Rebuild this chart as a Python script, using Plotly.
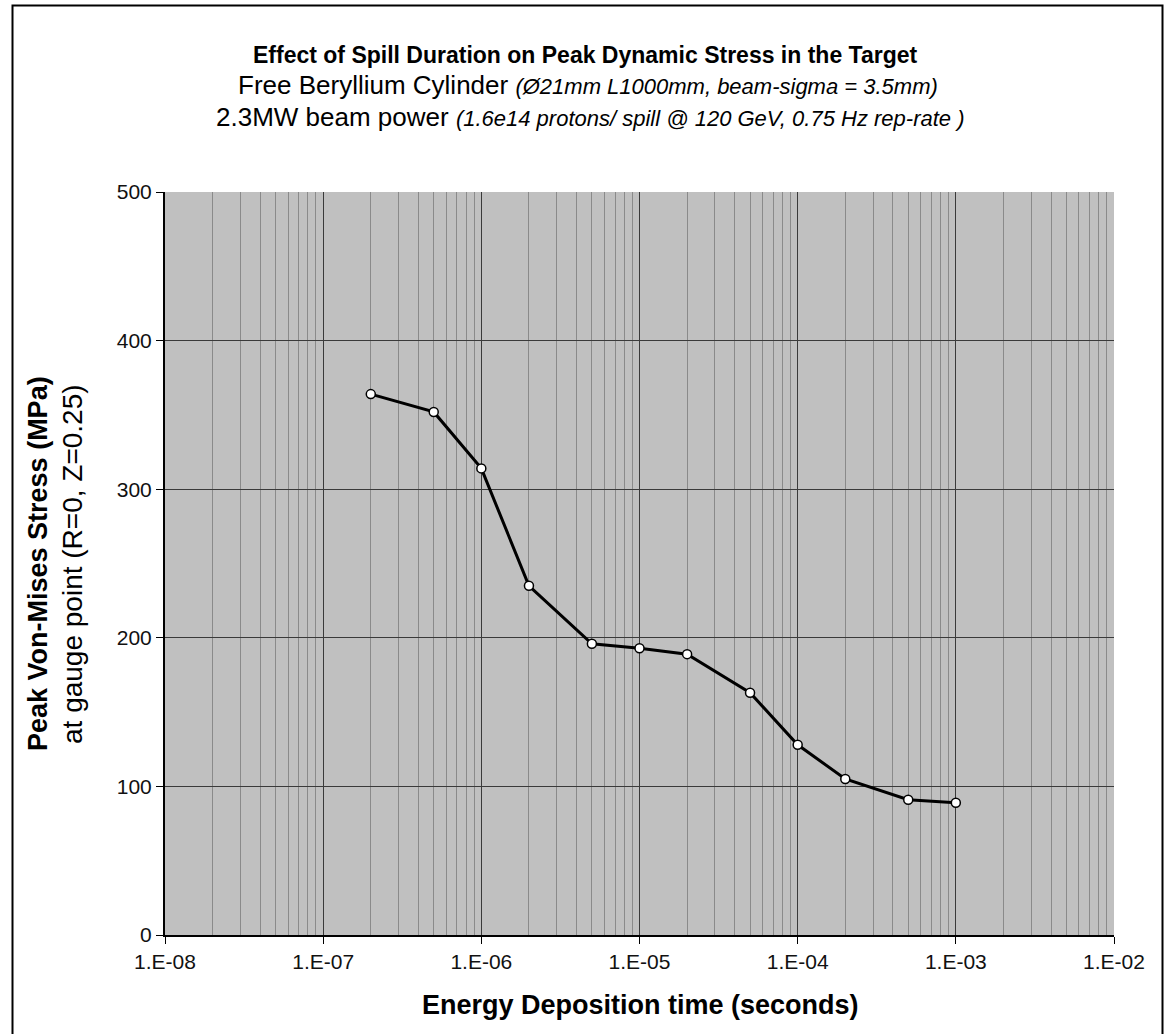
import plotly.graph_objects as go

# Energy deposition time (s) and peak von-Mises stress (MPa)
spill_time = [2e-7, 5e-7, 1e-6, 2e-6, 5e-6, 1e-5, 2e-5, 5e-5, 1e-4, 2e-4, 5e-4, 1e-3]
peak_stress = [364, 352, 314, 235, 196, 193, 189, 163, 128, 105, 91, 89]

x_tick_vals = [1e-8, 1e-7, 1e-6, 1e-5, 1e-4, 1e-3, 1e-2]
x_tick_text = ["1.E-08", "1.E-07", "1.E-06", "1.E-05", "1.E-04", "1.E-03", "1.E-02"]
y_tick_vals = [0, 100, 200, 300, 400, 500]

W, H = 1164, 1034
ML, MR, MT, MB = 165, 50, 192, 99
PW, PH = W - ML - MR, H - MT - MB

def px_x(px):
    return (px - ML) / PW

def px_y(py):
    return (H - MB - py) / PH

FONT = "Liberation Sans, Arial, sans-serif"

fig = go.Figure()
fig.add_trace(go.Scatter(
    x=spill_time, y=peak_stress, mode="lines+markers",
    line=dict(color="black", width=3),
    marker=dict(size=9, color="white", line=dict(color="black", width=1.5)),
    showlegend=False, cliponaxis=False,
))

fig.update_layout(
    width=W, height=H,
    margin=dict(l=ML, r=MR, t=MT, b=MB),
    paper_bgcolor="white", plot_bgcolor="#C0C0C0",
    font=dict(family=FONT, color="black", size=21),
    xaxis=dict(
        type="log", range=[-8, -2],
        tickvals=x_tick_vals, ticktext=x_tick_text,
        ticks="outside", ticklen=7, tickcolor="black", tickwidth=1,
        showline=True, linecolor="black", linewidth=2, mirror=False,
        showgrid=True, gridcolor="#3a3a3a", gridwidth=1,
        minor=dict(dtick="D1", showgrid=True, gridcolor="#8a8a8a", gridwidth=1, ticks=""),
        tickfont=dict(size=21, color="#111"), zeroline=False,
    ),
    yaxis=dict(
        range=[0, 500], tickvals=y_tick_vals,
        ticks="outside", ticklen=7, tickcolor="black", tickwidth=1,
        showline=True, linecolor="black", linewidth=2,
        showgrid=True, gridcolor="#3a3a3a", gridwidth=1,
        tickfont=dict(size=21, color="#111"), zeroline=False,
    ),
)

annotations = [
    dict(text="<b>Effect of Spill Duration on Peak Dynamic Stress in the Target</b>",
         x=px_x(585), y=px_y(55), font=dict(size=23)),
    dict(text="Free Beryllium Cylinder <i><span style='font-size:22px'>(Ø21mm L1000mm, beam-sigma = 3.5mm)</span></i>",
         x=px_x(588), y=px_y(85), font=dict(size=26)),
    dict(text="2.3MW beam power <i><span style='font-size:22px'>(1.6e14 protons/ spill @ 120 GeV, 0.75 Hz rep-rate )</span></i>",
         x=px_x(590), y=px_y(117), font=dict(size=26)),
    dict(text="<b>Energy Deposition time (seconds)</b>",
         x=px_x(640), y=px_y(1005), font=dict(size=27)),
    dict(text="<b>Peak Von-Mises Stress (MPa)</b>",
         x=px_x(38), y=px_y(564), textangle=-90, font=dict(size=27)),
    dict(text="at gauge point (R=0, Z=0.25)",
         x=px_x(72), y=px_y(564), textangle=-90, font=dict(size=28)),
]
for a in annotations:
    a.update(xref="paper", yref="paper", showarrow=False, xanchor="center", yanchor="middle")
fig.update_layout(annotations=annotations)

# Outer frame around the chart
fig.add_shape(type="rect", xref="paper", yref="paper",
              x0=px_x(12.5), x1=px_x(1162.5), y0=px_y(1045), y1=px_y(5.5),
              line=dict(color="black", width=2), fillcolor="rgba(0,0,0,0)", layer="above")

fig.write_html("out.html")
